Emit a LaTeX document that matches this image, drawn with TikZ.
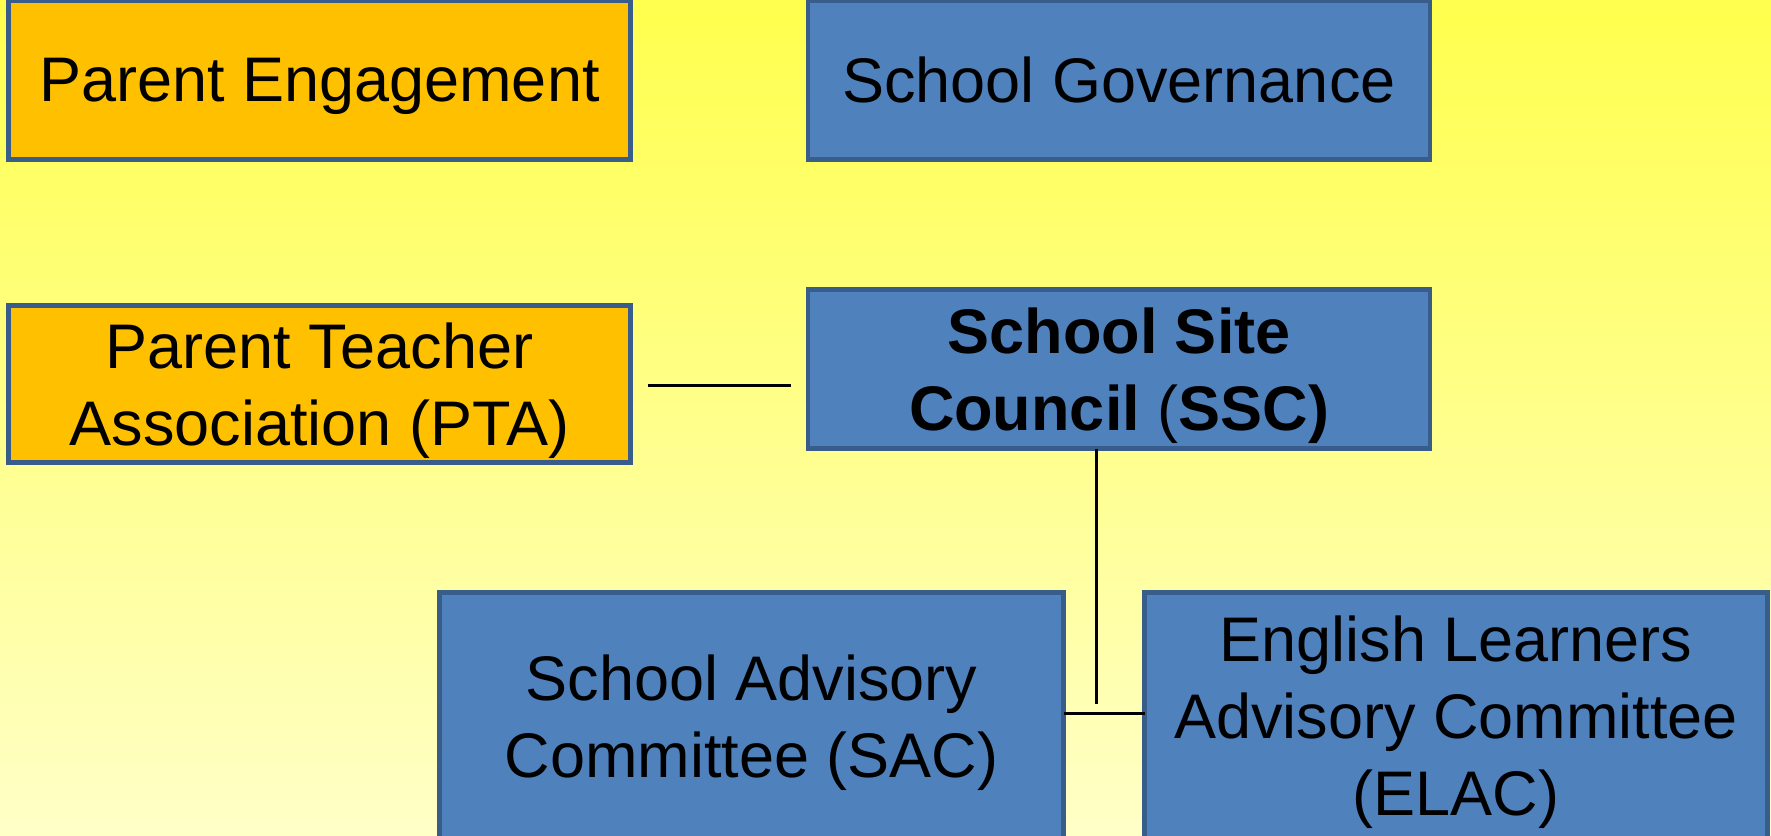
\documentclass[tikz,border=0pt]{standalone}
\usepackage{fontspec}
\setmainfont{Liberation Sans}
\usetikzlibrary{calc}
\definecolor{orgfill}{RGB}{255,192,0}
\definecolor{bluefill}{RGB}{79,129,189}
\definecolor{boxline}{RGB}{56,93,138}
\definecolor{bgtop}{RGB}{255,255,77}
\definecolor{bgbot}{RGB}{255,255,200}
\tikzset{
  box/.style={draw=boxline, line width=4.5pt, minimum width=622pt, align=center,
    font=\fontsize{63}{77}\selectfont, text=black, inner sep=0pt, outer sep=0pt,
    text depth=0pt},
  orgbox/.style={box, fill=orgfill},
  bluebox/.style={box, fill=bluefill},
  conn/.style={draw=black, line width=3pt}
}
\begin{document}
\begin{tikzpicture}[x=1pt,y=-1pt]
\useasboundingbox (0,0) rectangle (1771,835);
\shade[top color=bgtop, bottom color=bgbot] (0,0) rectangle (1771,835);
\node[orgbox, minimum height=159pt] (pe) at (319.5,80) {Parent Engagement};
\node[bluebox, minimum height=159pt] (sg) at (1119,80) {School Governance};
\node[orgbox, minimum height=157pt] (pta) at (319.5,384) {Parent Teacher\\Association (PTA)};
\node[bluebox, minimum height=159pt, font=\fontsize{63}{77}\selectfont\bfseries] (ssc) at (1119,369) {School Site\\Council {\mdseries(}SSC)};
\node[bluebox, minimum height=247pt, minimum width=624pt] (sac) at (751.5,716) {School Advisory\\Committee (SAC)};
\node[bluebox, minimum height=247pt, minimum width=623pt] (elac) at (1456,716) {English Learners\\Advisory Committee\\(ELAC)};
\coordinate (j) at (1096,713);
\draw[conn, shorten <=17pt, shorten >=17pt] ([yshift=-1.5pt]pta.east) -- ([yshift=-1.5pt]pta.east -| ssc.west);
\draw[conn] (j |- ssc.south) -- ($(j)+(0,-9)$);
\draw[conn] (sac.east |- j) -- (elac.west |- j);
\end{tikzpicture}
\end{document}
